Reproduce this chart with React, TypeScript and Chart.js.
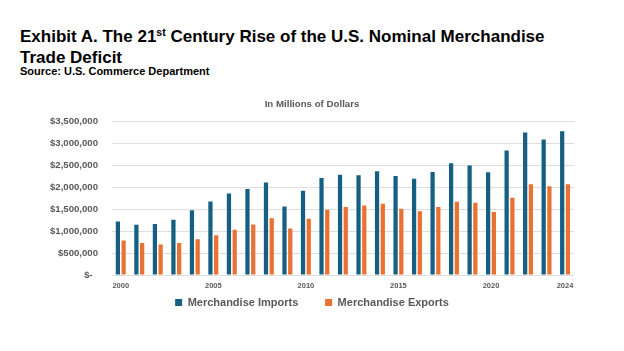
import React, { useEffect, useRef } from 'react';
import { Chart, registerables } from 'chart.js';

Chart.register(...registerables);

const years = [
  '2000', '2001', '2002', '2003', '2004', '2005', '2006', '2007', '2008', '2009',
  '2010', '2011', '2012', '2013', '2014', '2015', '2016', '2017', '2018', '2019',
  '2020', '2021', '2022', '2023', '2024',
];

// Millions of dollars
const merchandiseImports = [
  1218022, 1140999, 1161366, 1257121, 1469704, 1673455, 1853938, 1956962, 2103641, 1559625,
  1913857, 2207954, 2276267, 2268370, 2356356, 2248811, 2186802, 2339631, 2537718, 2491697,
  2336593, 2832914, 3242060, 3083000, 3267000,
];

const merchandiseExports = [
  781918, 729100, 693103, 724771, 814875, 901082, 1025967, 1148199, 1287442, 1056043,
  1278495, 1482508, 1545703, 1578517, 1621874, 1503328, 1451460, 1546273, 1665303, 1643161,
  1431638, 1754000, 2064000, 2019000, 2065000,
];

const xTickYears = ['2000', '2005', '2010', '2015', '2020', '2024'];
const yMax = 3500000;
const yStep = 500000;

const FONT = '"Liberation Sans", Arial, Helvetica, sans-serif';
const GRAY = '#595959';

export default function App() {
  const canvasRef = useRef<HTMLCanvasElement | null>(null);

  useEffect(() => {
    const canvas = canvasRef.current;
    if (!canvas) return;
    const chart = new Chart(canvas, {
      type: 'bar',
      data: {
        labels: years,
        datasets: [
          {
            label: 'Merchandise Imports',
            data: merchandiseImports,
            backgroundColor: '#156082',
            borderWidth: 0,
            categoryPercentage: 0.62,
            barPercentage: 0.74,
          },
          {
            label: 'Merchandise Exports',
            data: merchandiseExports,
            backgroundColor: '#E97132',
            borderWidth: 0,
            categoryPercentage: 0.62,
            barPercentage: 0.74,
          },
        ],
      },
      options: {
        responsive: false,
        devicePixelRatio: 1,
        animation: false,
        layout: { padding: { left: 0, right: 0, top: 0, bottom: 0 } },
        plugins: {
          title: {
            display: true,
            text: 'In Millions of Dollars',
            color: GRAY,
            font: { family: FONT, size: 9.7, weight: 'bold' },
            padding: { top: 10.7, bottom: 10.7 },
          },
          legend: {
            display: true,
            position: 'bottom',
            labels: {
              color: GRAY,
              font: { family: FONT, size: 11, weight: 'bold' },
              boxWidth: 7,
              boxHeight: 7,
              padding: 8.5,
              generateLabels: (c: any) => {
                const items = (Chart.defaults.plugins.legend.labels as any).generateLabels(c);
                return items.map((it: any, i: number) =>
                  i === 0 ? { ...it, text: it.text + '\u00a0'.repeat(6) } : it
                );
              },
            },
          },
          tooltip: { enabled: false },
        },
        scales: {
          x: {
            type: 'category',
            grid: { display: false, drawTicks: false, tickLength: 0 },
            border: { display: false },
            ticks: {
              autoSkip: false,
              maxRotation: 0,
              minRotation: 0,
              padding: 6.5,
              color: GRAY,
              font: { family: FONT, size: 7.5, weight: 'bold' },
              callback: (_v: any, idx: number) =>
                xTickYears.includes(years[idx]) ? years[idx] : '',
            },
            afterFit: (s: any) => {
              s.height = 13.5;
            },
          },
          y: {
            type: 'linear',
            position: 'left',
            min: 0,
            max: yMax,
            grid: { color: '#dedede', lineWidth: 1, drawTicks: false, tickLength: 0 },
            border: { display: false },
            ticks: {
              stepSize: yStep,
              padding: 13.5,
              color: GRAY,
              font: { family: FONT, size: 9.6, weight: 'bold' },
              callback: (v: any) =>
                Number(v) === 0 ? '$-\u00a0\u00a0' : '$' + Number(v).toLocaleString('en-US'),
            },
            afterFit: (s: any) => {
              s.width = 111.5;
            },
          },
          yRight: {
            type: 'linear',
            position: 'right',
            display: true,
            grid: { display: false, drawTicks: false, tickLength: 0 },
            border: { display: false },
            ticks: { display: false },
            afterFit: (s: any) => {
              s.width = 49.7;
            },
          },
        },
      },
    } as any);
    return () => {
      chart.destroy();
    };
  }, []);

  return (
    <div
      style={{
        position: 'absolute',
        left: 0,
        top: 0,
        width: 624,
        height: 351,
        background: '#fff',
        overflow: 'hidden',
      }}
    >
      <div
        style={{
          position: 'absolute',
          left: 20,
          top: 27,
          fontFamily: FONT,
          fontWeight: 700,
          fontSize: 17,
          lineHeight: '19px',
          color: '#000',
          whiteSpace: 'nowrap',
        }}
      >
        Exhibit A. The 21
        <span style={{ fontSize: '0.62em', position: 'relative', top: '-0.55em' }}>st</span>
        {' '}Century Rise of the U.S. Nominal Merchandise
        <br />
        Trade Deficit
      </div>
      <div
        style={{
          position: 'absolute',
          left: 20,
          top: 65,
          fontFamily: FONT,
          fontWeight: 700,
          fontSize: 11,
          lineHeight: '13px',
          color: '#000',
          whiteSpace: 'nowrap',
        }}
      >
        Source: U.S. Commerce Department
      </div>
      <canvas
        ref={canvasRef}
        width={624}
        height={230}
        style={{ position: 'absolute', left: 0, top: 88, width: 624, height: 230 }}
      />
    </div>
  );
}
